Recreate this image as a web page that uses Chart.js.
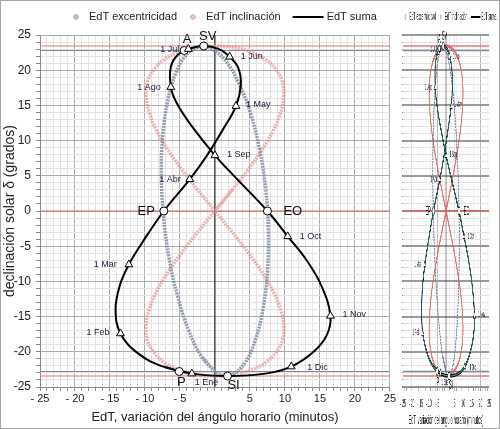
<!DOCTYPE html>
<html>
<head>
<meta charset="utf-8">
<script src="https://cdn.jsdelivr.net/npm/chart.js@4.4.1/dist/chart.umd.min.js"></script>
<style>
  html, body { margin: 0; padding: 0; background: #fff; }
  #wrap { position: relative; width: 500px; height: 429px; overflow: hidden; background: #fff; }
  #main { position: absolute; left: 0; top: 0; }
  #mini { position: absolute; left: 397px; top: 0; width: 103px; height: 429px; overflow: hidden; }
  #mini canvas { transform-origin: 0 0; transform: scaleX(0.3029); }
  #frame { position: absolute; left: 0; top: 0; width: 500px; height: 429px; box-sizing: border-box; border: 1px solid #a6a6a6; pointer-events: none; }
</style>
</head>
<body>
<div id="wrap">
  <canvas id="main" width="397" height="429"></canvas>
  <div id="mini"><canvas id="miniCanvas" width="340" height="429"></canvas></div>
  <div id="frame"></div>
</div>
<script>
// EdT suma (analema): minutos / grados, del 1 Ene al 21 Dic
const sumaEdT  = [-3.3, -7.4, -10.9, -13.5, -14.2, -13.6, -12.3, -10.2, -7.3, -3.6, -1.2, 1.1, 3.0, 3.7, 3.3, 2.1, 0.6, -1.6, -3.8, -5.3, -6.3, -6.3, -5.5, -3.5, 0.0, 3.0, 7.5, 10.4, 13.1, 15.3, 16.5, 16.0, 14.1, 10.9, 7.2, 1.8];
const sumaDecl = [-23.1, -22.1, -20.3, -17.4, -14.0, -10.6, -7.6, -4.2, 0.0, 4.5, 7.8, 11.5, 14.9, 18.0, 20.4, 21.9, 23.0, 23.44, 23.0, 22.2, 20.5, 17.6, 15.4, 12.3, 7.9, 4.7, 0.0, -3.6, -7.0, -10.8, -14.9, -17.6, -20.0, -22.1, -23.1, -23.44];

// EdT excentricidad
const excEdT  = [0.0, -1.96, -3.78, -5.36, -6.57, -7.36, -7.66, -7.45, -6.74, -5.59, -4.08, -2.29, -1.6, -0.35, 1.62, 3.48, 5.11, 6.39, 7.26, 7.64, 7.52, 6.89, 5.81, 4.35, 2.59, 1.7, 0.67];
const excDecl = [-22.8, -20.6, -16.9, -12.0, -6.6, -0.6, 5.2, 10.8, 15.7, 19.6, 22.2, 23.36, 23.44, 23.0, 21.2, 18.0, 13.8, 8.7, 3.1, -2.7, -8.4, -13.8, -18.2, -21.5, -23.2, -23.44, -23.2];

// EdT inclinación
const inclEdT  = [0, 2.45, 4.76, 6.76, 8.36, 9.39, 9.84, 9.64, 8.68, 7.2, 5.12, 2.68, 0, -2.68, -5.12, -7.2, -8.68, -9.64, -9.84, -9.39, -8.36, -6.76, -4.76, -2.45, 0, 2.45, 4.76, 6.76, 8.36, 9.39, 9.84, 9.64, 8.68, 7.2, 5.12, 2.68, 0, -2.68, -5.12, -7.2, -8.68, -9.64, -9.84, -9.39, -8.36, -6.76, -4.76, -2.45];
const inclDecl = [0, 2.98, 5.91, 8.76, 11.47, 14.01, 16.34, 18.4, 20.15, 21.56, 22.6, 23.23, 23.44, 23.23, 22.6, 21.56, 20.15, 18.4, 16.34, 14.01, 11.47, 8.76, 5.91, 2.98, 0, -2.98, -5.91, -8.76, -11.47, -14.01, -16.34, -18.4, -20.15, -21.56, -22.6, -23.23, -23.44, -23.23, -22.6, -21.56, -20.15, -18.4, -16.34, -14.01, -11.47, -8.76, -5.91, -2.98];

// primeros de mes
const monthNames = ["1 Ene", "1 Feb", "1 Mar", "1 Abr", "1 May", "1 Jun", "1 Jul", "1 Ago", "1 Sep", "1 Oct", "1 Nov", "1 Dic"];
const monthEdT   = [-3.3, -13.5, -12.3, -3.6, 3.0, 2.1, -3.8, -6.3, 0.0, 10.4, 16.5, 10.9];
const monthDecl  = [-23.1, -17.4, -7.6, 4.5, 14.9, 21.9, 23.0, 17.6, 7.9, -3.6, -14.9, -22.1];

// solsticios, equinoccios, afelio, perihelio
const eventNames = ["SV", "A", "EP", "EO", "P", "SI"];
const eventEdT   = [-1.6, -4.4, -7.3, 7.5, -5.1, 1.8];
const eventDecl  = [23.44, 22.8, 0, 0, -22.8, -23.44];

// lineas horizontales de referencia (grados)
const refLineDecl = [23.44, 22.8, 0, -22.8, -23.44];

const xTickValues = [-25, -20, -15, -10, -5, 0, 5, 10, 15, 20, 25];
const xTickLabels = ["- 25", "- 20", "- 15", "- 10", "- 5", "", "5", "10", "15", "20", "25"];
const yTickValues = [25, 20, 15, 10, 5, 0, -5, -10, -15, -20, -25];
const yTickLabels = ["25", "20", "15", "10", "5", "0", "-5", "-10", "-15", "-20", "-25"];

// estilo de las etiquetas: [alineación, dx, dy] en pixeles
const monthLabelPlace = [
  ["left", 3, 9], ["right", -11, -1], ["right", -12, 0], ["right", -9, 0],
  ["left", 10, -2], ["left", 11, 0], ["right", -9, 0], ["right", -10, 0],
  ["left", 12, -1], ["left", 12, 0], ["left", 12, -1], ["left", 16, 1]
];
const eventLabelPlace = [
  ["center", 4, -10], ["center", 3, -11], ["right", -9, 0],
  ["left", 16, 0], ["center", 2, 11], ["center", 6, 9]
];
const refLineColors = ["#e07b7b", "#7d8a9a", "#d96464", "#7d8a9a", "#e07b7b"];

Chart.defaults.font.family = '"Liberation Sans", Arial, sans-serif';
Chart.defaults.color = "#222";

const pts = (xs, ys) => xs.map((x, i) => ({ x, y: ys[i] }));
const closed = (p) => p.concat([p[0], p[1]]);

const markLabels = {
  id: "markLabels",
  afterDatasetsDraw(chart) {
    const { ctx, scales: { x, y } } = chart;
    ctx.save();
    ctx.textBaseline = "middle";
    ctx.fillStyle = "#1d1d3a";
    ctx.font = '9px "Liberation Sans", Arial, sans-serif';
    monthNames.forEach((name, i) => {
      const [align, dx, dy] = monthLabelPlace[i];
      ctx.textAlign = align;
      ctx.fillText(name, x.getPixelForValue(monthEdT[i]) + dx, y.getPixelForValue(monthDecl[i]) + dy);
    });
    ctx.fillStyle = "#111";
    ctx.font = '13px "Liberation Sans", Arial, sans-serif';
    eventNames.forEach((name, i) => {
      const [align, dx, dy] = eventLabelPlace[i];
      ctx.textAlign = align;
      ctx.fillText(name, x.getPixelForValue(eventEdT[i]) + dx, y.getPixelForValue(eventDecl[i]) + dy);
    });
    ctx.restore();
  }
};

const leyenda = {
  id: "leyenda",
  afterDraw(chart) {
    const { ctx, chartArea } = chart;
    const items = chart.data.datasets.filter(d => d.legendKind);
    const mini = chart.canvas.id === "miniCanvas";
    ctx.save();
    ctx.font = '11px "Liberation Sans", Arial, sans-serif';
    ctx.textBaseline = "middle";
    ctx.textAlign = "left";
    const widths = items.map(d => (d.legendKind === "line" ? 35 : 17) + ctx.measureText(d.label).width);
    const gap = 12;
    let x = chartArea.left + (mini ? 4 : 32);
    const y = 17;
    items.forEach((d, i) => {
      if (d.legendKind === "line") {
        ctx.strokeStyle = "#000";
        ctx.lineWidth = 2;
        ctx.beginPath(); ctx.moveTo(x, y); ctx.lineTo(x + 31, y); ctx.stroke();
        ctx.fillStyle = "#222";
        ctx.fillText(d.label, x + 34, y);
      } else {
        ctx.beginPath(); ctx.arc(x + 4, y, 2.3, 0, Math.PI * 2);
        ctx.fillStyle = d.legendFill; ctx.fill();
        ctx.strokeStyle = d.legendStroke; ctx.lineWidth = 1; ctx.stroke();
        ctx.fillStyle = "#222";
        ctx.fillText(d.label, x + 17, y);
      }
      x += widths[i] + gap;
    });
    ctx.restore();
  }
};

function buildChart(canvasId, mini) {
  const scale = mini ? 103 / 340 : 1;
  const datasets = [
    { label: "meses", data: pts(monthEdT, monthDecl), showLine: false, pointStyle: "triangle",
      pointRadius: 4.5, backgroundColor: "#fff", borderColor: "#000", borderWidth: 1, order: 0 },
    { label: "eventos", data: pts(eventEdT, eventDecl), showLine: false, pointStyle: "circle",
      pointRadius: 4, backgroundColor: "#fff", borderColor: "#000", borderWidth: 1, order: 0 },
    { label: "EdT excentricidad", legendKind: "dot", legendFill: "#c3cad4", legendStroke: "#98a3b2",
      data: closed(pts(excEdT, excDecl)), showLine: true, tension: 0.4, pointRadius: 0,
      borderColor: mini ? "rgba(105,115,132,0.85)" : "rgba(128,141,160,0.85)",
      borderWidth: 3.5, borderDash: [2, 1], order: 3 },
    { label: "EdT inclinación", legendKind: "dot", legendFill: "#f3c9c9", legendStroke: "#e29a9a",
      data: closed(pts(inclEdT, inclDecl)), showLine: true, tension: 0.4, pointRadius: 0,
      borderColor: mini ? "rgba(224,95,95,0.85)" : "rgba(226,140,140,0.66)",
      borderWidth: 3.5, borderDash: mini ? [] : [2, 1], order: 4 },
    { label: "EdT suma", legendKind: "line",
      data: closed(pts(sumaEdT, sumaDecl)), showLine: true, tension: 0.4, pointRadius: 0,
      borderColor: "#000", borderWidth: mini ? 3.2 : 2, order: 2 }
  ];
  if (mini) {
    datasets.push({ label: "suma", data: closed(pts(sumaEdT, sumaDecl)), showLine: true, tension: 0.4,
      pointRadius: 0, borderColor: "#2a9d8f", borderWidth: 1.4, order: 1 });
  }
  refLineDecl.forEach((v, i) => {
    datasets.push({ label: "ref" + i, data: [{ x: -25, y: v }, { x: 25, y: v }], showLine: true,
      pointRadius: 0, borderColor: refLineColors[i], borderWidth: mini ? 1.6 : 1.2, order: 5 });
  });
  // eje vertical en EdT = 0
  datasets.push({ label: "eje", data: [{ x: 0, y: -25 }, { x: 0, y: 25 }], showLine: true,
    pointRadius: 0, borderColor: "#111", borderWidth: mini ? 2.5 : 1, order: 6 });

  const xGrid = (c) => c.tick.value % 5 === 0 ? "#acacac" : (mini ? "#f2f2f2" : "#e3e3e3");
  const yGrid = (c) => c.tick.value % 5 === 0 ? (mini ? "#9a9a9a" : "#acacac") : "#e3e3e3";

  return new Chart(document.getElementById(canvasId), {
    type: "scatter",
    data: { datasets },
    options: {
      responsive: false,
      animation: false,
      layout: { padding: { top: 35, right: mini ? 36 : 5, left: 0, bottom: 0 } },
      plugins: { legend: { display: false }, tooltip: { enabled: false } },
      scales: {
        x: {
          min: -25, max: 25,
          afterFit: (s) => { s.height = 42; },
          grid: { color: xGrid, tickColor: "#8a8a8a", tickLength: 4 },
          border: { color: "#8a8a8a" },
          ticks: {
            stepSize: 1, autoSkip: false, maxRotation: 0, padding: mini ? 6 : 1,
            font: { size: 11 },
            callback: (v) => { const i = xTickValues.indexOf(v); return i < 0 ? "" : xTickLabels[i]; }
          },
          title: { display: true, text: "EdT, variación del ángulo horario (minutos)",
            font: { size: 13 }, padding: { top: 0, bottom: mini ? 1 : 4 } }
        },
        y: {
          min: -25, max: 25,
          afterFit: (s) => { s.width = mini ? 6 / scale : 40; },
          grid: { color: yGrid, lineWidth: (c) => (mini && c.tick.value % 5 === 0) ? 2 : 1,
            tickColor: "#8a8a8a", tickLength: 4 },
          border: { color: "#8a8a8a" },
          ticks: {
            display: !mini, stepSize: 1, autoSkip: false, padding: 5,
            font: { size: 12 },
            callback: (v) => { const i = yTickValues.indexOf(v); return i < 0 ? "" : yTickLabels[i]; }
          },
          title: { display: !mini, text: "declinación solar δ (grados)",
            font: { size: 14 }, padding: { top: 2, bottom: 0 } }
        }
      }
    },
    plugins: [markLabels, leyenda]
  });
}

buildChart("main", false);
buildChart("miniCanvas", true);
</script>
</body>
</html>
